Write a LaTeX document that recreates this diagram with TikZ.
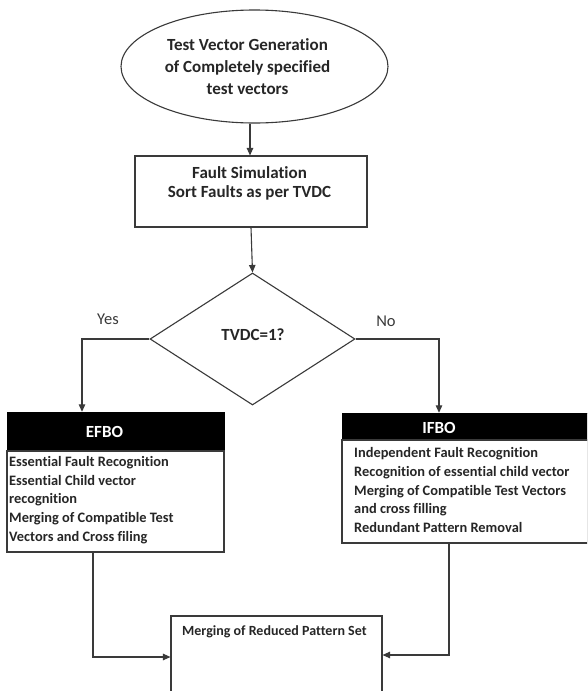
\documentclass[tikz,border=0pt]{standalone}
\usepackage{fontspec}
\setmainfont{Carlito}[Ligatures=NoCommon]
\usetikzlibrary{shapes.geometric,arrows.meta}
\definecolor{ln}{HTML}{3A3A3A}
\definecolor{tx}{HTML}{262626}
\tikzset{
  x=1pt,y=-1pt,
  every node/.style={text=tx,font=\bfseries},
  conn/.style={draw=ln,line width=1.1pt},
  arr/.style={conn,-{Triangle[length=7.5pt,width=6.5pt]}},
  frame/.style={draw=ln,line width=1.1pt,rectangle,inner sep=0pt},
  head/.style={fill=black,draw=black,rectangle,inner sep=0pt},
  headtext/.style={text=white,inner sep=0pt,font=\bfseries\fontsize{17}{20}\selectfont},
  body/.style={anchor=north west,align=left,inner sep=0pt,font=\bfseries\fontsize{14.4}{18.6}\selectfont},
  big/.style={align=center,inner sep=0pt,font=\bfseries\fontsize{17}{22}\selectfont},
  lab/.style={inner sep=0pt,font=\fontsize{16.5}{18}\selectfont,text=ln}
}
\begin{document}
\begin{tikzpicture}
\clip (0,0) rectangle (587,691);
\fill[white] (0,0) rectangle (587,691);
% ellipse
\node[ellipse,draw=ln,line width=1.1pt,minimum width=267pt,minimum height=113pt,inner sep=0pt] (tvg) at (254.5,66.5) {};
\node[big] (tvgt) at (247.5,67) {Test Vector Generation\\of Completely specified\\test vectors};
% fault simulation box
\node[frame,minimum width=232pt,minimum height=71pt] (fs) at (251,191.5) {};
\node[big,font=\bfseries\fontsize{17}{19}\selectfont] (fst) at (249.5,183) {Fault Simulation\\Sort Faults as per TVDC};
% diamond
\node[diamond,draw=ln,line width=1.1pt,minimum width=205pt,minimum height=132pt,inner sep=0pt] (dec) at (252.5,339) {};
\node[big] (dect) at (253,335) {TVDC=1?};
\node[lab] (yes) at (108,319) {Yes};
\node[lab] (no) at (386,321) {No};
% EFBO
\node[head,minimum width=217pt,minimum height=39pt] (efh) at (115.5,431.5) {};
\node[headtext] (efht) at (104.5,432) {EFBO};
\node[frame,minimum width=217pt,minimum height=101pt] (efb) at (115.5,501.5) {};
\node[body] (efbt) at (9,453.4) {\strut Essential Fault Recognition\\Essential Child vector\\recognition\\Merging of Compatible Test\\Vectors and Cross filing};
% IFBO
\node[head,minimum width=246pt,minimum height=27pt] (ifh) at (465,426.5) {};
\node[headtext] (ifht) at (439,428) {IFBO};
\node[frame,minimum width=246pt,minimum height=103pt] (ifb) at (465,491.5) {};
\node[body] (ifbt) at (354,444.6) {\strut Independent Fault Recognition\\Recognition of essential child vector\\Merging of Compatible Test Vectors\\and cross filling\\Redundant Pattern Removal};
% bottom box
\node[frame,minimum width=211pt,minimum height=110pt] (mr) at (276.5,671) {};
\node[anchor=west,inner sep=0pt,font=\bfseries\fontsize{14}{16}\selectfont] (mrt) at (182,632) {Merging of Reduced Pattern Set};
% connectors
\draw[arr] (tvg.south -| 250,0) -- (fs.north -| 250,0);
\draw[arr] (fs.south -| 251,0) -- (dec.north);
\coordinate (yb) at (82,339);
\coordinate (nb) at (439,339);
\draw[arr] (dec.west) -- (yb) -- (yb |- efh.north);
\draw[arr] (dec.east) -- (nb) -- (nb |- ifh.north);
\coordinate (eb) at (93,657);
\coordinate (ib) at (449,655);
\draw[arr] (eb |- efb.south) -- (eb) -- (eb -| mr.west);
\draw[arr] (ib |- ifb.south) -- (ib) -- (ib -| mr.east);
\end{tikzpicture}
\end{document}
